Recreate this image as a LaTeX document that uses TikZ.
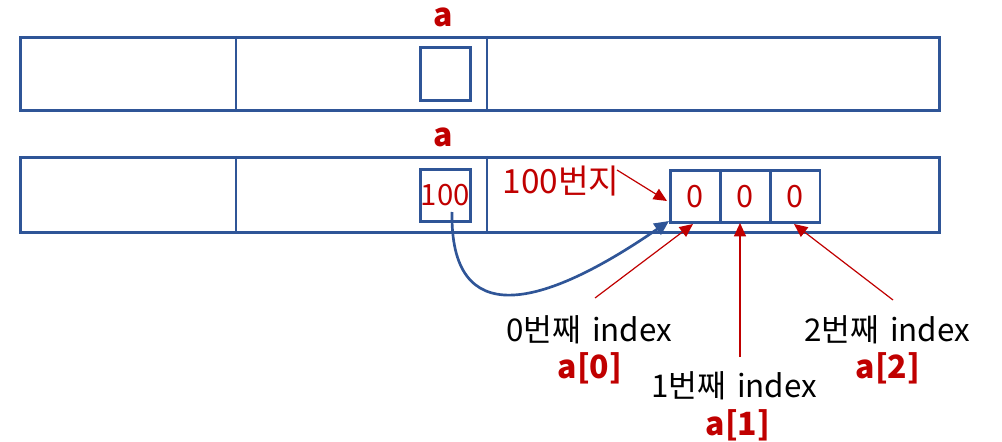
\documentclass[tikz,border=0pt]{standalone}
\usepackage{fontspec}
\setmainfont{Noto Sans CJK KR}
\usetikzlibrary{arrows.meta}
\definecolor{boxblue}{HTML}{2F5597}
\definecolor{darkred}{HTML}{C00000}
\newcommand{\isp}{\hspace{0.35em}}
\tikzset{
  frame/.style={draw=boxblue, line width=1.9pt, inner sep=0pt},
  cellbox/.style={frame, minimum width=37.5pt, minimum height=39pt, text=darkred, font=\fontsize{23}{25}\selectfont},
  varname/.style={text=darkred, font=\fontsize{24}{26}\selectfont\bfseries, inner sep=0pt},
  blacklabel/.style={font=\fontsize{23.5}{26}\selectfont, inner sep=0pt},
  redlabel/.style={text=darkred, font=\fontsize{25}{28}\selectfont, inner sep=0pt},
  redarrow/.style={draw=darkred, line width=0.9pt, -{Triangle[length=10pt,width=9pt]}},
  bluearrow/.style={draw=boxblue, line width=2pt, -{Triangle[length=11pt,width=10pt]}},
}
\begin{document}
\begin{tikzpicture}[x=0.75pt,y=-0.75pt]
\useasboundingbox (0,0) rectangle (1002,442);
% Row 1
\node[frame, minimum width=689.25pt, minimum height=54.75pt, anchor=north west] (r1) at (19,36) {};
\coordinate (r1d1t) at (236,36); \coordinate (r1d1b) at (236,109);
\coordinate (r1d2t) at (487,36); \coordinate (r1d2b) at (487,109);
\draw[boxblue, line width=1.9pt] (r1d1t) -- (r1d1b) (r1d2t) -- (r1d2b);
\node[frame, minimum width=37.5pt, minimum height=39.75pt, anchor=north west] (s1) at (419,46) {};
\node[varname] (a1) at (443,17) {a};
% Row 2
\node[frame, minimum width=689.25pt, minimum height=56.25pt, anchor=north west] (r2) at (19,156) {};
\coordinate (r2d1t) at (236,156); \coordinate (r2d1b) at (236,231);
\coordinate (r2d2t) at (487,156); \coordinate (r2d2b) at (487,231);
\draw[boxblue, line width=1.9pt] (r2d1t) -- (r2d1b) (r2d2t) -- (r2d2b);
\node[frame, minimum width=37.5pt, minimum height=39pt, anchor=north west, text=darkred, font=\fontsize{22}{24}\selectfont] (s2) at (419,168) {100};
\node[varname] (a2) at (443,137) {a};
% array cells
\node[cellbox, anchor=north west] (c0) at (669,169) {0};
\node[cellbox, anchor=north west] (c1) at (719,169) {0};
\node[cellbox, anchor=north west] (c2) at (768.5,169) {0};
% address label
\node[redlabel] (addr) at (561,181) {100번지};
\coordinate (addrend) at (617,170);
\coordinate (c0left) at (667,201);
\draw[redarrow] (addrend) -- (c0left);
% pointer curve
\coordinate (pstart) at (452,212);
\coordinate (ptip) at (669,221);
\draw[bluearrow] (pstart) .. controls (450,330) and (540,310) .. (ptip);
% index labels
\node[blacklabel] (i0) at (589,330) {0번째\isp index};
\node[varname] (e0) at (590,368) {a[0]};
\node[blacklabel] (i1) at (734,386) {1번째\isp index};
\node[varname] (e1) at (738,425) {a[1]};
\node[blacklabel] (i2) at (887,330) {2번째\isp index};
\node[varname] (e2) at (888,368) {a[2]};
\coordinate (t0) at (595,298); \coordinate (h0) at (693,224);
\coordinate (t1) at (740,357); \coordinate (h1) at (740,223);
\coordinate (t2) at (893,300); \coordinate (h2) at (794,224);
\draw[redarrow] (t0) -- (h0);
\draw[redarrow] (t1) -- (h1);
\draw[redarrow] (t2) -- (h2);
\end{tikzpicture}
\end{document}
